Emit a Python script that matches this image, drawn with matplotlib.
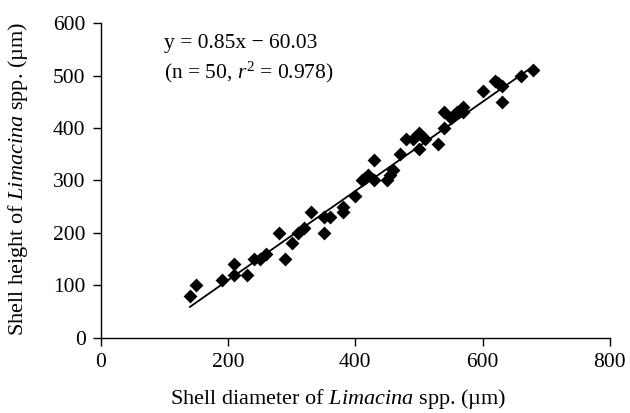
import matplotlib
matplotlib.use("Agg")
import matplotlib.pyplot as plt
import numpy as np

diameter = [140, 150, 190, 210, 210, 230, 240, 250, 260, 280, 290, 300, 310, 320, 330,
            350, 350, 360, 380, 380, 400, 410, 415, 420, 430, 430, 450, 455, 460, 470,
            480, 490, 500, 500, 510, 530, 540, 540, 550, 555, 560, 570, 570, 600, 620,
            625, 630, 630, 660, 680]
height = [80, 100, 110, 120, 140, 120, 150, 150, 160, 200, 150, 180, 200, 210, 240,
          230, 200, 230, 240, 250, 270, 300, 305, 310, 300, 340, 300, 310, 320, 350,
          380, 380, 390, 360, 380, 370, 400, 430, 420, 425, 430, 440, 430, 470, 490,
          485, 480, 450, 500, 510]
slope, intercept = 0.85, -60.03
fit_x = [140, 680]

plt.rcParams['font.family'] = ['Liberation Serif', 'DejaVu Serif']
plt.rcParams['mathtext.fontset'] = 'custom'
plt.rcParams['mathtext.it'] = 'Liberation Serif:italic'
plt.rcParams['mathtext.rm'] = 'Liberation Serif'
plt.rcParams['mathtext.bf'] = 'Liberation Serif:bold'

FS = 15.5
LFS = 16
fig = plt.figure(figsize=(6.3, 4.13), dpi=100)
ax = fig.add_axes([0.160, 0.182, 0.808, 0.762])
ax.scatter(diameter, height, marker='D', s=50, color='black', zorder=3, linewidths=0)
fx = np.array(fit_x)
ax.plot(fx, slope * fx + intercept, color='black', lw=1.3)
ax.set_xlim(0, 800)
ax.set_ylim(0, 600)
ax.set_xticks(range(0, 801, 200))
ax.set_yticks(range(0, 601, 100))
for s in ['top', 'right']:
    ax.spines[s].set_visible(False)
for s in ['left', 'bottom']:
    ax.spines[s].set_linewidth(1.0)
ax.tick_params(direction='out', length=6, width=1, labelsize=FS, pad=5)
ax.set_xlabel('Shell diameter of $\\mathit{Limacina}$ spp. (µm)', fontsize=LFS)
ax.set_ylabel('Shell height of $\\mathit{Limacina}$ spp. (µm)', fontsize=LFS)
ax.xaxis.set_label_coords(0.466, -0.155)
ax.yaxis.set_label_coords(-0.14, 0.505)
ax.text(0.125, 0.965, 'y = 0.85x − 60.03', transform=ax.transAxes, fontsize=FS, va='top')
ax.text(0.125, 0.885, '(n = 50, $r^2$ = 0.978)', transform=ax.transAxes, fontsize=FS, va='top')
fig.savefig('out.png', dpi=100)
